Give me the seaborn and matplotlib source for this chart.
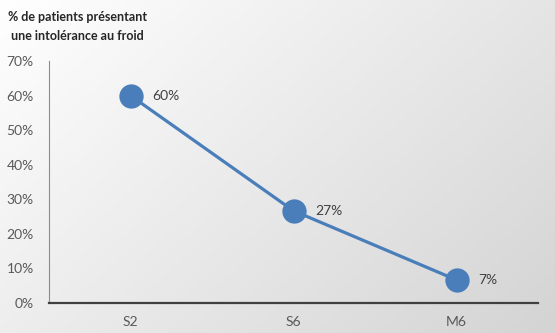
import numpy as np
import pandas as pd
import matplotlib
matplotlib.use("Agg")
import matplotlib.pyplot as plt
import seaborn as sns

categories = ["S2", "S6", "M6"]
values = [0.60, 0.2667, 0.0667]
value_labels = ["60%", "27%", "7%"]
yticks = [0, 0.1, 0.2, 0.3, 0.4, 0.5, 0.6, 0.7]
ytick_labels = ["0%", "10%", "20%", "30%", "40%", "50%", "60%", "70%"]
title = "% de patients présentant\n une intolérance au froid"

sns.set_style("white")
plt.rcParams['font.family'] = ['Lato', 'DejaVu Sans']

df = pd.DataFrame({"cat": categories, "val": values})

fig = plt.figure(figsize=(5.55, 3.33), dpi=100)
# gradient background
bg = fig.add_axes([0, 0, 1, 1], zorder=-10)
h, w = 333, 555
yy, xx = np.mgrid[0:h, 0:w]
t = (xx / w * 0.6 + yy / h * 0.4)
g = 1.0 - 0.17 * t
img = np.dstack([g, g, g])
bg.imshow(img, aspect="auto", extent=[0, 1, 0, 1])
bg.axis("off")

ax = fig.add_axes([49 / 555, 1 - 303 / 333, (538 - 49) / 555, (303 - 61) / 333])
ax.patch.set_alpha(0)
sns.lineplot(data=df, x="cat", y="val", ax=ax, color="#4a7ebb", lw=2.3,
             marker="o", markersize=17.5, markeredgewidth=0, sort=False)
ax.set_xlim(-0.5, 2.5)
ax.set_ylim(0, 0.7)
ax.set_yticks(yticks)
ax.set_yticklabels(ytick_labels)
ax.set_xlabel("")
ax.set_ylabel("")
for i, (v, lab) in enumerate(zip(values, value_labels)):
    ax.annotate(lab, (i, v), xytext=(15.5, 0), textcoords="offset points",
                va="center", ha="left", fontsize=10, color="#404040")
ax.tick_params(axis="both", length=0, labelsize=10, labelcolor="#595959")
ax.tick_params(axis="y", pad=11)
ax.tick_params(axis="x", pad=9)
for s in ["top", "right"]:
    ax.spines[s].set_visible(False)
ax.spines["left"].set_color("#8c8c8c")
ax.spines["left"].set_linewidth(0.8)
ax.spines["bottom"].set_color("#404040")
ax.spines["bottom"].set_linewidth(1.6)

fig.text(8 / 555, 1 - 11 / 333, title, ha="left", va="top", fontsize=9,
         fontweight="bold", color="#262626", linespacing=1.65)

fig.savefig("out.png", dpi=100)
